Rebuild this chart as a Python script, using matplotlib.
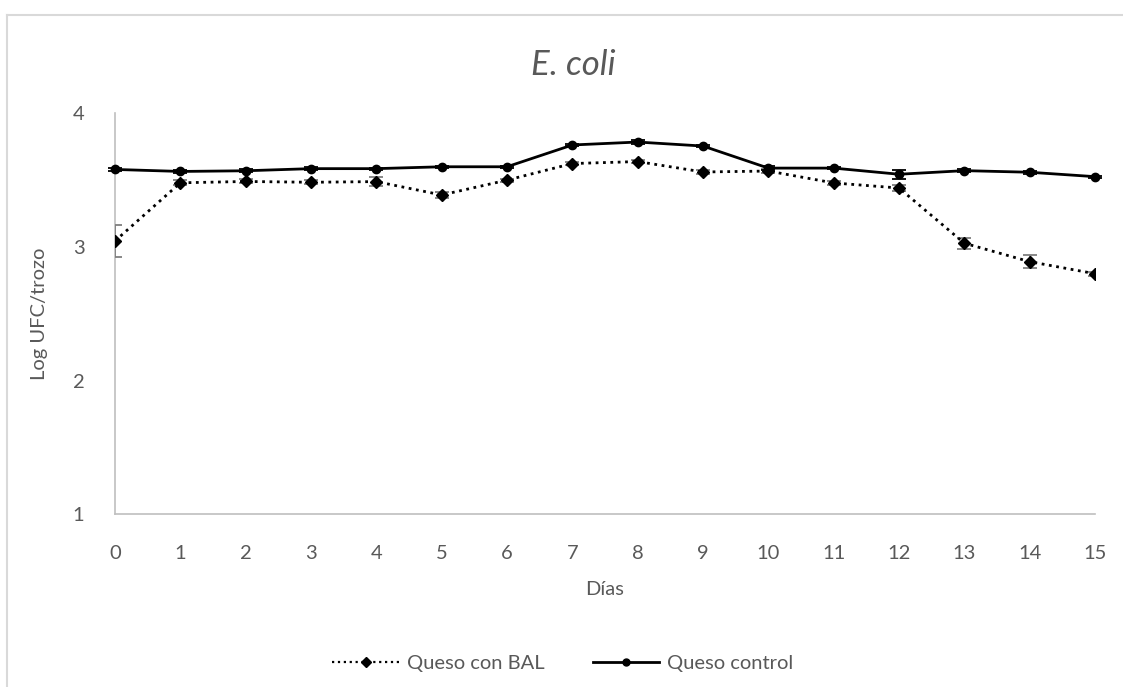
import numpy as np
import matplotlib.pyplot as plt
from matplotlib.lines import Line2D

# Data
dias = list(range(16))
queso_bal = [3.045, 3.48, 3.49, 3.484, 3.489, 3.389, 3.50, 3.624,
             3.639, 3.561, 3.568, 3.479, 3.441, 3.028, 2.89, 2.80]
err_bal = [0.12, 0.02, 0.015, 0.015, 0.035, 0.02, 0.012, 0.012,
           0.012, 0.012, 0.012, 0.012, 0.02, 0.04, 0.05, 0.015]
queso_control = [3.58, 3.565, 3.57, 3.586, 3.586, 3.60, 3.60, 3.763,
                 3.785, 3.755, 3.59, 3.59, 3.544, 3.571, 3.559, 3.526]
err_control = [0.008, 0.008, 0.012, 0.012, 0.008, 0.008, 0.008, 0.008,
               0.012, 0.008, 0.015, 0.008, 0.035, 0.012, 0.01, 0.008]

grey = '#595959'
axis_grey = '#BFBFBF'
plt.rcParams['font.family'] = ['Lato', 'DejaVu Sans']
fs = 14.5

fig = plt.figure(figsize=(11.23, 6.87), dpi=100)
ax = fig.add_axes([115 / 1123, 1 - 514.3 / 687, 980 / 1123, 401 / 687])

# Chart border (top and left visible)
fig.add_artist(Line2D([7 / 1123, 7 / 1123], [0, 1 - 15 / 687], transform=fig.transFigure,
                      color='#D9D9D9', lw=1.5))
fig.add_artist(Line2D([7 / 1123, 1], [1 - 15 / 687, 1 - 15 / 687], transform=fig.transFigure,
                      color='#D9D9D9', lw=1.5))

ax.errorbar(dias, queso_bal, yerr=err_bal, color='black', ls=':', lw=2,
            marker='D', markersize=6, ecolor='#7F7F7F', elinewidth=1.3, capsize=5,
            capthick=1.3, zorder=3)
ax.errorbar(dias, queso_control, yerr=err_control, color='black', ls='-', lw=2,
            marker='o', markersize=6, ecolor='black', elinewidth=1.3, capsize=5,
            capthick=1.3, zorder=4, clip_on=False)

ax.set_xlim(0, 15)
ax.set_ylim(1, 4)
ax.set_xticks(dias)
ax.set_yticks([1, 2, 3, 4])
for s in ['top', 'right']:
    ax.spines[s].set_visible(False)
for s in ['left', 'bottom']:
    ax.spines[s].set_color(axis_grey)
    ax.spines[s].set_linewidth(1.2)
ax.tick_params(length=0, labelsize=fs, colors=grey)
ax.tick_params(axis='x', pad=22)
ax.tick_params(axis='y', pad=22)

ax.set_xlabel('Días', fontsize=fs, color=grey, labelpad=14)
ax.set_ylabel('Log UFC/trozo', fontsize=fs, color=grey, labelpad=18)
fig.text(573 / 1123, 1 - 65 / 687, 'E. coli', fontsize=25, style='italic',
         color=grey, ha='center', va='center')

handles = [Line2D([], [], color='black', ls=':', lw=1.6, marker='D', markersize=5),
           Line2D([], [], color='black', ls='-', lw=2, marker='o', markersize=5)]
fig.legend(handles, ['Queso con BAL', 'Queso control'], loc='center',
           bbox_to_anchor=(563 / 1123, 1 - 663 / 687), ncol=2,
           frameon=False, fontsize=fs, labelcolor=grey, handlelength=3.3,
           handletextpad=0.4, columnspacing=2.4)

fig.savefig('out.png', dpi=100)
